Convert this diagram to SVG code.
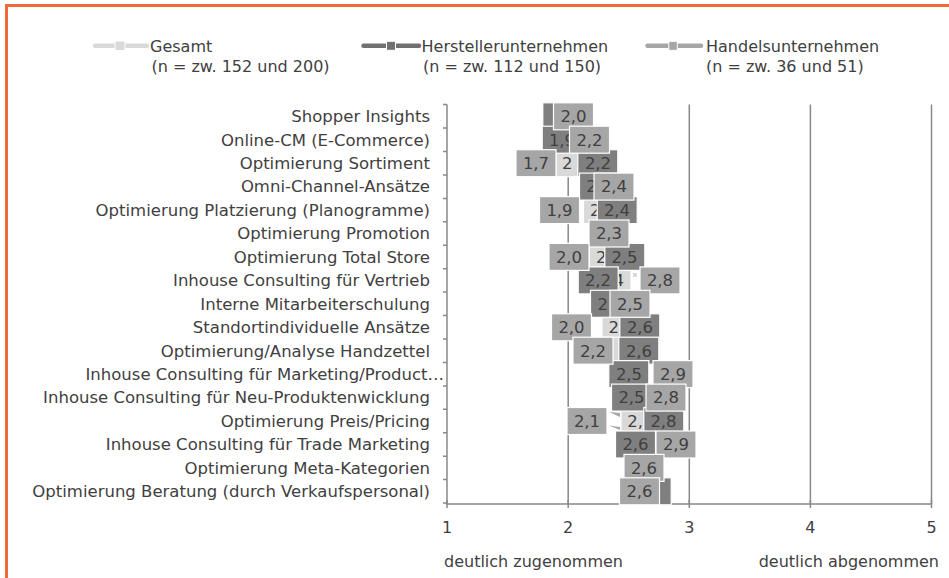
<svg xmlns="http://www.w3.org/2000/svg" width="949" height="578" viewBox="0 0 949 578">
<style>
text{font-family:"DejaVu Sans","Liberation Sans",sans-serif;font-size:16px;fill:#404040}
.cat{text-anchor:end;font-size:16.5px}
.v{text-anchor:middle}
.d{font-size:16.5px}
.ax{stroke:#898989;stroke-width:1.5;fill:none}
.g{fill:#d9d9d9;stroke:#fff;stroke-width:1.2}
.h{fill:#7f7f7f;stroke:#fff;stroke-width:1.2}
.m{fill:#a6a6a6;stroke:#fff;stroke-width:1.2}
</style>
<rect width="949" height="578" fill="#fff"/>
<path d="M6.5,578 V5.5 H949" fill="none" stroke="#F4693A" stroke-width="3"/>

<g id="legend">
 <g id="legend-gesamt">
  <line x1="95" y1="45.7" x2="147" y2="45.7" stroke="#d9d9d9" stroke-width="4.5" stroke-linecap="round"/>
  <rect x="115" y="41" width="10" height="9.5" fill="#d9d9d9" stroke="#fff" stroke-width="1"/>
  <text x="150" y="52">Gesamt</text>
  <text x="151.5" y="71.5">(n = zw. 152 und 200)</text>
 </g>
 <g id="legend-hersteller">
  <line x1="363.5" y1="45.7" x2="419" y2="45.7" stroke="#717171" stroke-width="4.5" stroke-linecap="round"/>
  <rect x="386.5" y="41.3" width="9" height="9" fill="#717171" stroke="#fff" stroke-width="1"/>
  <text x="421.5" y="52">Herstellerunternehmen</text>
  <text x="423" y="71.5">(n = zw. 112 und 150)</text>
 </g>
 <g id="legend-handels">
  <line x1="647.5" y1="45.7" x2="701" y2="45.7" stroke="#a6a6a6" stroke-width="4.5" stroke-linecap="round"/>
  <rect x="668.8" y="41.3" width="8.5" height="9" fill="#a6a6a6" stroke="#fff" stroke-width="1"/>
  <text x="706" y="52">Handelsunternehmen</text>
  <text x="706" y="71.5">(n = zw. 36 und 51)</text>
 </g>
</g>

<g id="axes">
 <path class="ax" d="M568.2,104.6V504 M689.3,104.6V504 M810.4,104.6V504 M931.5,104.6V504"/>
 <path class="ax" d="M447,104.6V504 H931.5"/>
 <path class="ax" d="M443,104.6H447 M443,128H447 M443,151.5H447 M443,174.9H447 M443,198.4H447 M443,221.8H447 M443,245.2H447 M443,268.7H447 M443,292.1H447 M443,315.6H447 M443,339H447 M443,362.4H447 M443,385.9H447 M443,409.3H447 M443,432.8H447 M443,456.2H447 M443,479.6H447 M443,503H447"/>
 <path class="ax" d="M447,500V508 M568.2,500V508 M689.3,500V508 M810.4,500V508 M931.5,500V508"/>
 <text class="v" x="447" y="533">1</text>
 <text class="v" x="568.2" y="533">2</text>
 <text class="v" x="689.3" y="533">3</text>
 <text class="v" x="810.4" y="533">4</text>
 <text class="v" x="931.5" y="533">5</text>
 <text x="444" y="566.5">deutlich zugenommen</text>
 <text x="939" y="566.5" text-anchor="end">deutlich abgenommen</text>
</g>

<g id="categories">
 <text class="cat" x="430" y="122.1">Shopper Insights</text>
 <text class="cat" x="430" y="145.5">Online-CM (E-Commerce)</text>
 <text class="cat" x="430" y="169">Optimierung Sortiment</text>
 <text class="cat" x="430" y="192.4">Omni-Channel-Ansätze</text>
 <text class="cat" x="430" y="215.9">Optimierung Platzierung (Planogramme)</text>
 <text class="cat" x="430" y="239.3">Optimierung Promotion</text>
 <text class="cat" x="430" y="262.7">Optimierung Total Store</text>
 <text class="cat" x="430" y="286.2">Inhouse Consulting für Vertrieb</text>
 <text class="cat" x="430" y="309.6">Interne Mitarbeiterschulung</text>
 <text class="cat" x="430" y="333.1">Standortindividuelle Ansätze</text>
 <text class="cat" x="430" y="356.5">Optimierung/Analyse Handzettel</text>
 <text class="cat" x="444" y="379.9">Inhouse Consulting für Marketing/Product…</text>
 <text class="cat" x="430" y="403.4">Inhouse Consulting für Neu-Produktenwicklung</text>
 <text class="cat" x="430" y="426.8">Optimierung Preis/Pricing</text>
 <text class="cat" x="430" y="450.3">Inhouse Consulting für Trade Marketing</text>
 <text class="cat" x="430" y="473.7">Optimierung Meta-Kategorien</text>
 <text class="cat" x="430" y="497.1">Optimierung Beratung (durch Verkaufspersonal)</text>
</g>

<g id="series-gesamt" class="d">
 <g id="g-r2"><rect class="g" x="556" y="149.7" width="40" height="27"/><text class="d" x="562" y="169">2</text></g>
 <g id="g-r4"><rect class="g" x="583.5" y="196.6" width="40" height="27"/><text class="d" x="590" y="215.9">2</text></g>
 <g id="g-r6"><rect class="g" x="589.5" y="243.4" width="40" height="27"/><text class="d" x="596" y="262.7">2</text></g>
 <g id="g-r7"><rect class="g" x="591" y="266.9" width="40" height="27"/><text class="d" x="613.6" y="286.2">4</text></g>
 <g id="g-r9"><rect class="g" x="602" y="313.8" width="40" height="27"/><text class="d" x="608.6" y="333.1">2</text></g>
 <g id="g-r10"><rect class="g" x="594.5" y="337.2" width="40" height="27"/></g>
 <g id="g-r13"><rect class="g" x="621" y="407.5" width="40" height="27"/><text class="d" x="627.3" y="426.8">2,</text></g>
 <rect x="557" y="163" width="3" height="9" fill="#d9d9d9"/>
 <rect x="633" y="273" width="4" height="4" fill="#d9d9d9"/>
</g>

<g id="series-hersteller">
 <g id="h-r0"><rect class="h" x="542.8" y="102.8" width="40" height="27"/></g>
 <g id="h-r1"><rect class="h" x="542.2" y="126.2" width="40" height="27"/><text class="v d" x="562" y="145.5">1,9</text></g>
 <g id="h-r2"><rect class="h" x="577.8" y="149.7" width="40" height="27"/><text class="v d" x="598" y="169">2,2</text></g>
 <g id="h-r3"><rect class="h" x="579.5" y="173.1" width="40" height="27"/><text class="d" x="586.2" y="192.4">2</text></g>
 <g id="h-r4"><rect class="h" x="597.2" y="196.6" width="40" height="27"/><text class="v d" x="617" y="215.9">2,4</text></g>
 <g id="h-r6"><rect class="h" x="604.8" y="243.4" width="40" height="27"/><text class="v d" x="624.5" y="262.7">2,5</text></g>
 <g id="h-r7"><rect class="h" x="578.2" y="266.9" width="40" height="27"/><text class="v d" x="598" y="286.2">2,2</text></g>
 <g id="h-r8"><rect class="h" x="590.5" y="290.3" width="40" height="27"/><text class="d" x="597.5" y="309.6">2</text></g>
 <g id="h-r9"><rect class="h" x="619.8" y="313.8" width="40" height="27"/><text class="v d" x="640" y="333.1">2,6</text></g>
 <g id="h-r10"><rect class="h" x="618.8" y="337.2" width="40" height="27"/><text class="v d" x="639" y="356.5">2,6</text></g>
 <g id="h-r11"><rect class="h" x="608.8" y="360.6" width="40" height="27"/><text class="v d" x="629" y="379.9">2,5</text></g>
 <g id="h-r12"><rect class="h" x="611.5" y="384.1" width="40" height="27"/><text class="v d" x="631.5" y="403.4">2,5</text></g>
 <g id="h-r13"><rect class="h" x="643.8" y="407.5" width="40" height="27"/><text class="v d" x="663.5" y="426.8">2,8</text></g>
 <g id="h-r14"><rect class="h" x="615.5" y="431" width="40" height="27"/><text class="v d" x="635.5" y="450.3">2,6</text></g>
 <g id="h-r16"><rect class="h" x="631.2" y="477.8" width="40" height="27"/></g>
</g>

<g id="series-handels">
 <g id="m-r0"><rect class="m" x="553.5" y="102.8" width="40" height="27"/><text class="v d" x="573.5" y="122.1">2,0</text></g>
 <g id="m-r1"><rect class="m" x="569.5" y="126.2" width="40" height="27"/><text class="v d" x="589.5" y="145.5">2,2</text></g>
 <g id="m-r2"><rect class="m" x="516" y="149.7" width="40" height="27"/><text class="v d" x="536" y="169">1,7</text></g>
 <g id="m-r3"><rect class="m" x="594" y="173.1" width="40" height="27"/><text class="v d" x="614" y="192.4">2,4</text></g>
 <g id="m-r4"><rect class="m" x="539.5" y="196.6" width="40" height="27"/><text class="v d" x="559.5" y="215.9">1,9</text></g>
 <g id="m-r5"><rect class="m" x="589" y="220" width="40" height="27"/><text class="v d" x="609" y="239.3">2,3</text></g>
 <g id="m-r6"><rect class="m" x="549" y="243.4" width="40" height="27"/><text class="v d" x="569" y="262.7">2,0</text></g>
 <g id="m-r7"><rect class="m" x="640" y="266.9" width="40" height="27"/><text class="v d" x="660" y="286.2">2,8</text></g>
 <g id="m-r8"><rect class="m" x="610" y="290.3" width="40" height="27"/><text class="v d" x="630" y="309.6">2,5</text></g>
 <g id="m-r9"><rect class="m" x="551.5" y="313.8" width="40" height="27"/><text class="v d" x="571.5" y="333.1">2,0</text></g>
 <g id="m-r10"><rect class="m" x="573" y="337.2" width="40" height="27"/><text class="v d" x="593" y="356.5">2,2</text></g>
 <g id="m-r11"><rect class="m" x="653" y="360.6" width="40" height="27"/><text class="v d" x="673" y="379.9">2,9</text></g>
 <g id="m-r12"><rect class="m" x="646" y="384.1" width="40" height="27"/><text class="v d" x="666" y="403.4">2,8</text></g>
 <g id="m-r13"><rect class="m" x="567" y="407.5" width="40" height="27"/><text class="v d" x="587" y="426.8">2,1</text></g>
 <polygon points="609,412 620,413 620,417" fill="#a6a6a6"/>
 <polygon points="609,425.5 620,427 620,430" fill="#a6a6a6"/>
 <g id="m-r14"><rect class="m" x="656" y="431" width="40" height="27"/><text class="v d" x="676" y="450.3">2,9</text></g>
 <g id="m-r15"><rect class="m" x="624" y="454.4" width="40" height="27"/><text class="v d" x="644" y="473.7">2,6</text></g>
 <g id="m-r16"><rect class="m" x="619.5" y="477.8" width="40" height="27"/><text class="v d" x="639.5" y="497.1">2,6</text></g>
</g>
</svg>
